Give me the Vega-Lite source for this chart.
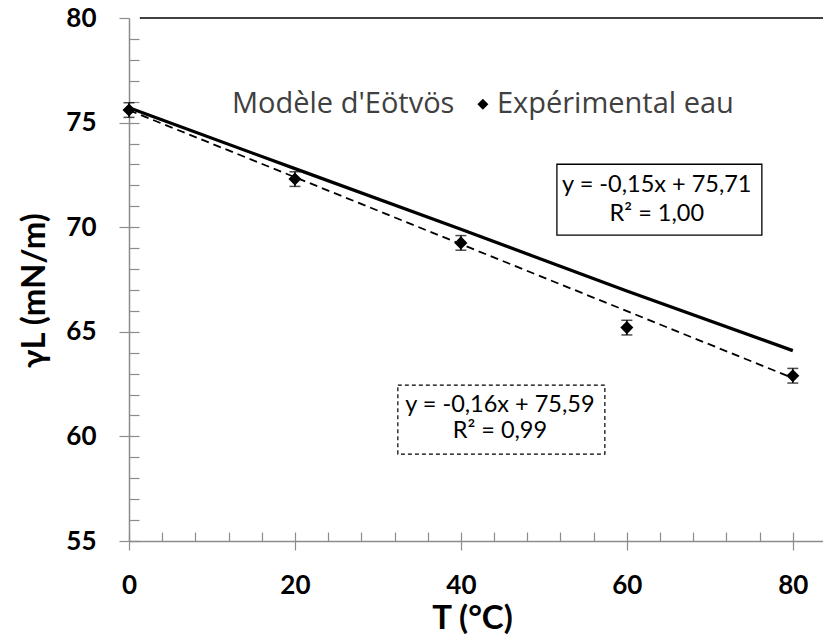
{
  "$schema": "https://vega.github.io/schema/vega-lite/v6.json",
  "autosize": {"type": "none"},
  "padding": {"left": 129, "top": 18, "right": 0, "bottom": 96},
  "width": 697,
  "height": 523,
  "background": "white",
  "config": {"view": {"stroke": null}, "font": "Lato"},
  "datasets": {
    "exp": [
      {"T": 0, "gamma": 75.6, "err": 0.35},
      {"T": 20, "gamma": 72.3, "err": 0.35},
      {"T": 40, "gamma": 69.25, "err": 0.35},
      {"T": 60, "gamma": 65.2, "err": 0.35},
      {"T": 80, "gamma": 62.9, "err": 0.35}
    ],
    "model": [
      {"T": 0, "gamma": 75.71},
      {"T": 20, "gamma": 72.8},
      {"T": 40, "gamma": 69.9},
      {"T": 60, "gamma": 66.95},
      {"T": 80, "gamma": 64.1}
    ],
    "trend": [
      {"T": 0, "gamma": 75.59},
      {"T": 80, "gamma": 62.79}
    ],
    "one": [{}]
  },
  "resolve": {"axis": {"x": "independent", "y": "independent"}},
  "layer": [
    {
      "data": {"name": "model"},
      "mark": {"type": "line", "color": "black", "strokeWidth": 3.2},
      "encoding": {
        "x": {"field": "T", "type": "quantitative",
          "scale": {"domain": [0, 84], "nice": false, "zero": false},
          "axis": {"orient": "bottom", "values": [0, 20, 40, 60, 80], "grid": false,
            "tickSize": 9, "tickColor": "#8c8c8c", "tickWidth": 1.2,
            "domainColor": "#8c8c8c", "domainWidth": 1.5,
            "labelFont": "Lato", "labelFontWeight": "bold", "labelFontSize": 26, "labelColor": "black",
            "labelPadding": 22, "labelFlush": false,
            "title": "T (°C)", "titleFont": "Lato", "titleFontSize": 33, "titleFontWeight": "bold",
            "titleColor": "black", "titleX": 343, "titleY": 87, "titleBaseline": "alphabetic"}},
        "y": {"field": "gamma", "type": "quantitative",
          "scale": {"domain": [55, 80], "nice": false, "zero": false},
          "axis": {"orient": "left", "values": [55, 60, 65, 70, 75, 80], "grid": false,
            "tickSize": 10, "tickColor": "#8c8c8c", "tickWidth": 1.2,
            "domainColor": "#8c8c8c", "domainWidth": 1.5,
            "labelFont": "Lato", "labelFontWeight": "bold", "labelFontSize": 26, "labelColor": "black",
            "labelPadding": 23, "labelFlush": false,
            "title": "γL (mN/m)", "titleFont": "Lato", "titleFontSize": 33, "titleFontWeight": "bold",
            "titleColor": "black", "titleX": -85, "titleY": 272, "titleBaseline": "alphabetic", "titleAngle": -90}}
      }
    },
    {
      "data": {"name": "trend"},
      "mark": {"type": "line", "color": "black", "strokeWidth": 1.8, "strokeDash": [8, 5]},
      "encoding": {
        "x": {"field": "T", "type": "quantitative",
          "axis": {"orient": "bottom", "values": [0, 4, 8, 12, 16, 20, 24, 28, 32, 36, 40, 44, 48, 52, 56, 60, 64, 68, 72, 76, 80],
            "grid": false, "labels": false, "domain": false, "title": null,
            "tickSize": -9, "tickColor": "#8c8c8c", "tickWidth": 1.2}},
        "y": {"field": "gamma", "type": "quantitative",
          "axis": {"orient": "left", "values": [55, 56, 57, 58, 59, 60, 61, 62, 63, 64, 65, 66, 67, 68, 69, 70, 71, 72, 73, 74, 75, 76, 77, 78, 79],
            "grid": false, "labels": false, "domain": false, "title": null,
            "tickSize": -10, "tickColor": "#8c8c8c", "tickWidth": 1.2}}
      }
    },
    {
      "data": {"name": "exp"},
      "mark": {"type": "errorbar", "color": "black", "thickness": 1.5, "ticks": {"size": 11, "color": "black", "thickness": 1.5}},
      "encoding": {
        "x": {"field": "T", "type": "quantitative", "axis": null},
        "y": {"field": "gamma", "type": "quantitative", "axis": null},
        "yError": {"field": "err"}
      }
    },
    {
      "data": {"name": "exp"},
      "mark": {"type": "point", "shape": "diamond", "filled": true, "color": "black", "size": 170, "opacity": 1},
      "encoding": {
        "x": {"field": "T", "type": "quantitative", "axis": null},
        "y": {"field": "gamma", "type": "quantitative", "axis": null}
      }
    },
    {
      "data": {"name": "one"},
      "mark": {"type": "rule", "color": "black", "strokeWidth": 1.6},
      "encoding": {
        "x": {"datum": 1.3, "type": "quantitative", "axis": null},
        "x2": {"datum": 84},
        "y": {"datum": 80, "type": "quantitative", "axis": null}
      }
    },
    {
      "data": {"name": "one"},
      "mark": {"type": "rect", "fill": "white", "stroke": "black", "strokeWidth": 1.3},
      "encoding": {
        "x": {"datum": 51.57, "type": "quantitative", "axis": null},
        "x2": {"datum": 76.27},
        "y": {"datum": 73.01, "type": "quantitative", "axis": null},
        "y2": {"datum": 69.62}
      }
    },
    {
      "data": {"name": "one"},
      "mark": {"type": "rect", "fill": "white", "stroke": "black", "strokeWidth": 1.2, "strokeDash": [4, 3]},
      "encoding": {
        "x": {"datum": 32.4, "type": "quantitative", "axis": null},
        "x2": {"datum": 57.35},
        "y": {"datum": 62.45, "type": "quantitative", "axis": null},
        "y2": {"datum": 59.15}
      }
    },
    {
      "data": {"name": "one"},
      "mark": {"type": "text", "font": "Lato", "fontSize": 23.5, "color": "black", "align": "center", "baseline": "middle", "text": "y = -0,15x + 75,71"},
      "encoding": {
        "x": {"datum": 63.61, "type": "quantitative", "axis": null},
        "y": {"datum": 72.01, "type": "quantitative", "axis": null}
      }
    },
    {
      "data": {"name": "one"},
      "mark": {"type": "text", "font": "Lato", "fontSize": 23.5, "color": "black", "align": "center", "baseline": "middle", "text": "R² = 1,00"},
      "encoding": {
        "x": {"datum": 63.61, "type": "quantitative", "axis": null},
        "y": {"datum": 70.65, "type": "quantitative", "axis": null}
      }
    },
    {
      "data": {"name": "one"},
      "mark": {"type": "text", "font": "Lato", "fontSize": 23.5, "color": "black", "align": "center", "baseline": "middle", "text": "y = -0,16x + 75,59"},
      "encoding": {
        "x": {"datum": 44.7, "type": "quantitative", "axis": null},
        "y": {"datum": 61.49, "type": "quantitative", "axis": null}
      }
    },
    {
      "data": {"name": "one"},
      "mark": {"type": "text", "font": "Lato", "fontSize": 23.5, "color": "black", "align": "center", "baseline": "middle", "text": "R² = 0,99"},
      "encoding": {
        "x": {"datum": 44.7, "type": "quantitative", "axis": null},
        "y": {"datum": 60.25, "type": "quantitative", "axis": null}
      }
    },
    {
      "data": {"name": "one"},
      "mark": {"type": "text", "font": "Open Sans", "fontSize": 29, "color": "#404040", "align": "left", "baseline": "middle", "text": "Modèle d'Eötvös"},
      "encoding": {
        "x": {"datum": 12.41, "type": "quantitative", "axis": null},
        "y": {"datum": 75.88, "type": "quantitative", "axis": null}
      }
    },
    {
      "data": {"name": "one"},
      "mark": {"type": "point", "shape": "diamond", "filled": true, "color": "black", "size": 120, "opacity": 1},
      "encoding": {
        "x": {"datum": 42.65, "type": "quantitative", "axis": null},
        "y": {"datum": 75.88, "type": "quantitative", "axis": null}
      }
    },
    {
      "data": {"name": "one"},
      "mark": {"type": "text", "font": "Open Sans", "fontSize": 29, "color": "#404040", "align": "left", "baseline": "middle", "text": "Expérimental eau"},
      "encoding": {
        "x": {"datum": 44.34, "type": "quantitative", "axis": null},
        "y": {"datum": 75.88, "type": "quantitative", "axis": null}
      }
    }
  ]
}
